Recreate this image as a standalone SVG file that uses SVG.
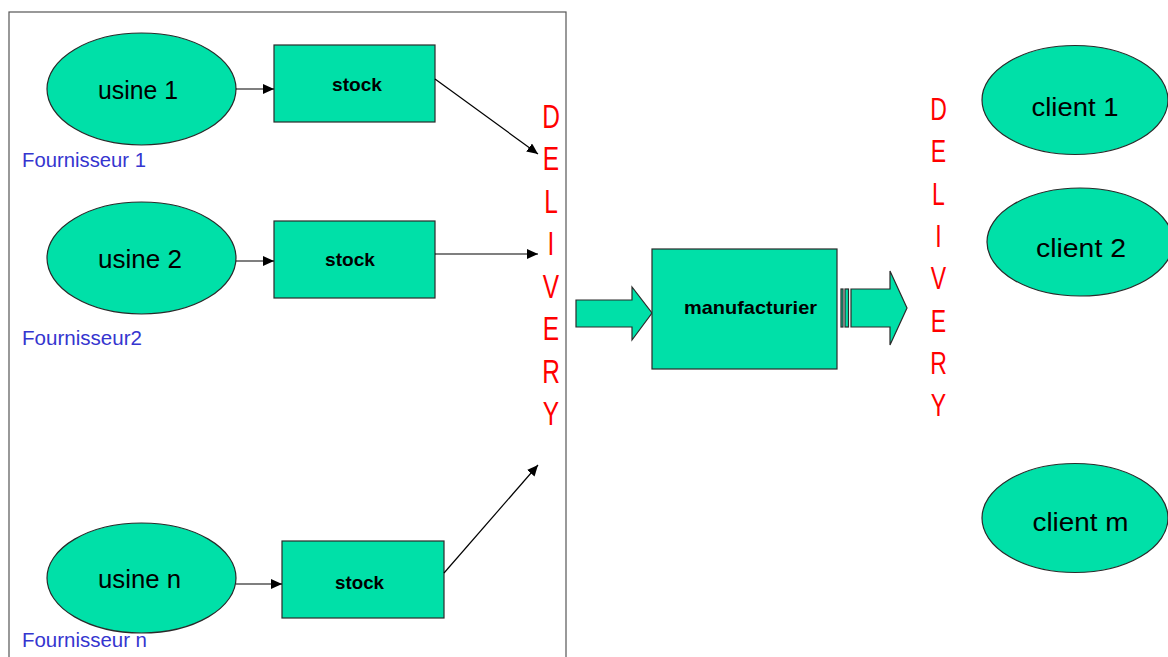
<svg xmlns="http://www.w3.org/2000/svg" width="1168" height="657" viewBox="0 0 1168 657">
<style>
.node{fill:#00E0A8;stroke:#2a2a2a;stroke-width:1.2}
.t{font-family:"Liberation Sans","DejaVu Sans",sans-serif;fill:#000;text-anchor:middle}
.big{font-size:26px}
.small{font-size:19px;font-weight:bold}
.sup{font-family:"Liberation Sans","DejaVu Sans",sans-serif;font-size:20px;fill:#3535CF}
.del{font-family:"Liberation Sans","DejaVu Sans",sans-serif;font-size:34px;fill:#FF0000;text-anchor:middle}
.conn{stroke:#000;stroke-width:1.2;fill:none;marker-end:url(#ah)}
</style>
<defs>
<marker id="ah" markerUnits="userSpaceOnUse" markerWidth="12" markerHeight="10" refX="11" refY="5" orient="auto">
<path d="M0,0 L11,5 L0,10 Z" fill="#000"/>
</marker>
</defs>
<rect x="0" y="0" width="1168" height="657" fill="#fff"/>
<rect id="frame" x="9" y="12" width="557" height="660" fill="none" stroke="#555" stroke-width="1.2"/>

<g id="usine1"><ellipse class="node" cx="141.5" cy="89" rx="94.5" ry="56"/><text class="t big" x="138" y="99" textLength="80" lengthAdjust="spacingAndGlyphs">usine 1</text></g>
<g id="stock1"><rect class="node" x="274" y="45" width="161" height="77"/><text class="t small" x="357" y="91" textLength="50" lengthAdjust="spacingAndGlyphs">stock</text></g>
<g id="fournisseur1"><text class="sup" x="22" y="167" textLength="124" lengthAdjust="spacingAndGlyphs">Fournisseur 1</text></g>

<g id="usine2"><ellipse class="node" cx="141.5" cy="258" rx="94.5" ry="56"/><text class="t big" x="140" y="268" textLength="84" lengthAdjust="spacingAndGlyphs">usine 2</text></g>
<g id="stock2"><rect class="node" x="274" y="221" width="161" height="77"/><text class="t small" x="350" y="266" textLength="50" lengthAdjust="spacingAndGlyphs">stock</text></g>
<g id="fournisseur2"><text class="sup" x="22" y="345" textLength="120" lengthAdjust="spacingAndGlyphs">Fournisseur2</text></g>

<g id="usineN"><ellipse class="node" cx="141.5" cy="578" rx="94.5" ry="55"/><text class="t big" x="139.5" y="588" textLength="83" lengthAdjust="spacingAndGlyphs">usine n</text></g>
<g id="stockN"><rect class="node" x="282" y="541" width="162" height="77"/><text class="t small" x="359.5" y="589" textLength="49" lengthAdjust="spacingAndGlyphs">stock</text></g>
<g id="fournisseurN"><text class="sup" x="22" y="647" textLength="125" lengthAdjust="spacingAndGlyphs">Fournisseur n</text></g>

<g id="delivery1" transform="translate(551,0) scale(0.72,1)">
<text class="del" x="0" y="128">D</text>
<text class="del" x="0" y="170.5">E</text>
<text class="del" x="0" y="213">L</text>
<text class="del" x="0" y="255.5">I</text>
<text class="del" x="0" y="298">V</text>
<text class="del" x="0" y="340.5">E</text>
<text class="del" x="0" y="383">R</text>
<text class="del" x="0" y="425.5">Y</text>
</g>

<g id="inArrow"><path class="node" d="M576,300 L632,300 L632,287 L652,313 L632,340 L632,327 L576,327 Z"/></g>
<g id="manufacturier"><rect class="node" x="652" y="249" width="185" height="120"/><text class="t small" x="750.5" y="314" textLength="133" lengthAdjust="spacingAndGlyphs">manufacturier</text></g>
<g id="outArrow">
<rect class="node" x="841" y="289" width="2" height="38" fill="#000"/>
<rect class="node" x="845" y="289" width="3.5" height="38"/>
<path class="node" d="M851,289 L890,289 L890,271 L907,308 L890,345 L890,327 L851,327 Z"/>
</g>

<g id="delivery2" transform="translate(938.5,0) scale(0.72,1)">
<text class="del" x="0" y="120" style="font-size:32px">D</text>
<text class="del" x="0" y="162.5" style="font-size:32px">E</text>
<text class="del" x="0" y="205" style="font-size:32px">L</text>
<text class="del" x="0" y="247" style="font-size:32px">I</text>
<text class="del" x="0" y="289" style="font-size:32px">V</text>
<text class="del" x="0" y="332" style="font-size:32px">E</text>
<text class="del" x="0" y="374" style="font-size:32px">R</text>
<text class="del" x="0" y="416" style="font-size:32px">Y</text>
</g>

<g id="client1"><ellipse class="node" cx="1075" cy="100" rx="93" ry="54.5"/><text class="t big" x="1075" y="116" textLength="87" lengthAdjust="spacingAndGlyphs">client 1</text></g>
<g id="client2"><ellipse class="node" cx="1080" cy="242" rx="93" ry="54"/><text class="t big" x="1081" y="257" textLength="90" lengthAdjust="spacingAndGlyphs">client 2</text></g>
<g id="clientM"><ellipse class="node" cx="1075" cy="518" rx="93" ry="54.5"/><text class="t big" x="1080.5" y="531" textLength="96" lengthAdjust="spacingAndGlyphs">client m</text></g>

<g id="connectors">
<line class="conn" x1="236" y1="89" x2="274" y2="89"/>
<line class="conn" x1="236" y1="261" x2="274" y2="261"/>
<line class="conn" x1="236" y1="584" x2="282" y2="584"/>
<line class="conn" x1="435" y1="79" x2="538" y2="154"/>
<line class="conn" x1="435" y1="254" x2="538" y2="254"/>
<line class="conn" x1="444" y1="573" x2="538" y2="465"/>
</g>
</svg>
